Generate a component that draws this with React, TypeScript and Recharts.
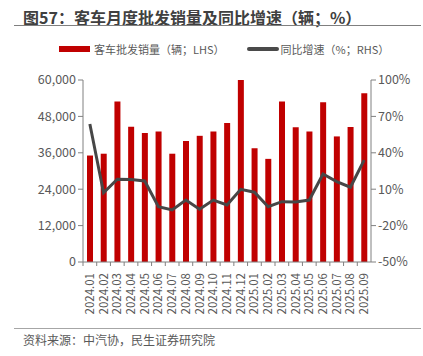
import { ComposedChart, Bar, Line, XAxis, YAxis } from "recharts";

const months = [
  "2024.01", "2024.02", "2024.03", "2024.04", "2024.05", "2024.06", "2024.07",
  "2024.08", "2024.09", "2024.10", "2024.11", "2024.12", "2025.01", "2025.02",
  "2025.03", "2025.04", "2025.05", "2025.06", "2025.07", "2025.08", "2025.09",
];

const sales = [
  35100, 35700, 52900, 44600, 42500, 43000, 35700, 39900, 41600, 43000, 45800,
  60000, 37500, 34000, 52900, 44400, 43000, 52700, 41400, 44500, 55600,
];

const yoy = [
  63.7, 7.1, 18.2, 18, 16.8, -4.4, -7.1, 1.1, -6.5, 1, -3, 9.9, 7.5, -4.4, -0.3,
  -0.5, 1.1, 22.5, 16.2, 11.6, 34,
];

const leftTicks = [0, 12000, 24000, 36000, 48000, 60000];
const rightTicks = [-50, -20, 10, 40, 70, 100];

const data = months.map((m, i) => ({ month: m, sales: sales[i], yoy: yoy[i] }));

const FONT = '"Noto Sans CJK SC", "Noto Sans", sans-serif';
const AXIS = "#808080";
const TEXT = "#595959";

const MonthTick = (props: any) => {
  const { x, y, payload } = props;
  const half = 288 / months.length / 2;
  return (
    <g>
      <line x1={x - half} y1={y - 8} x2={x - half} y2={y - 4} stroke={AXIS} />
      <text
        x={0}
        y={0}
        transform={`translate(${x + 4},${y + 3}) rotate(-90)`}
        textAnchor="end"
        fontSize={11.5}
        fill={TEXT}
        fontFamily={FONT}
      >
        {payload.value}
      </text>
    </g>
  );
};

export default function App() {
  return (
    <div
      style={{
        position: "absolute",
        left: 0,
        top: 0,
        width: 423,
        height: 356,
        background: "#fff",
        fontFamily: FONT,
      }}
    >
      <div
        style={{
          position: "absolute",
          left: 23,
          top: 5,
          fontSize: 16,
          fontWeight: 700,
          color: "#404040",
          whiteSpace: "nowrap",
        }}
      >
        图57：客车月度批发销量及同比增速（辆；%）
      </div>
      <div
        style={{
          position: "absolute",
          left: 14,
          top: 25,
          width: 407,
          height: 1,
          background: "#7f7f7f",
        }}
      />
      <div
        style={{
          position: "absolute",
          left: 59,
          top: 41,
          fontSize: 11,
          color: TEXT,
          whiteSpace: "nowrap",
          display: "flex",
          alignItems: "center",
        }}
      >
        <span
          style={{ display: "inline-block", width: 31, height: 6, background: "#C00000", marginRight: 4 }}
        />
        <span>客车批发销量（辆；LHS）</span>
        <span
          style={{
            display: "inline-block",
            width: 32,
            height: 4,
            borderRadius: 2,
            background: "#4a4a4a",
            marginLeft: 22,
            marginRight: 2,
          }}
        />
        <span>同比增速（%；RHS）</span>
      </div>

      <div style={{ position: "absolute", left: 0, top: 0 }}>
        <ComposedChart
          width={423}
          height={325}
          data={data}
          margin={{ top: 80, right: 7, left: 13, bottom: 8 }}
        >
          <XAxis
            dataKey="month"
            interval={0}
            height={55}
            tickLine={false}
            axisLine={{ stroke: AXIS }}
            tick={<MonthTick />}
          />
          <YAxis
            yAxisId="left"
            domain={[0, 60000]}
            ticks={leftTicks}
            width={70}
            tickSize={5}
            tickLine={{ stroke: AXIS }}
            axisLine={{ stroke: AXIS }}
            tick={{ fontSize: 12.5, fill: TEXT, fontFamily: FONT }}
            tickFormatter={(v: number) => v.toLocaleString("en-US")}
          />
          <YAxis
            yAxisId="right"
            orientation="right"
            domain={[-50, 100]}
            ticks={rightTicks}
            width={45}
            tickSize={5}
            tickLine={{ stroke: AXIS }}
            axisLine={{ stroke: AXIS }}
            tick={{ fontSize: 12.5, fill: TEXT, fontFamily: FONT }}
            tickFormatter={(v: number) => `${v}%`}
          />
          <Bar
            yAxisId="left"
            dataKey="sales"
            fill="#C00000"
            barSize={6}
            isAnimationActive={false}
          />
          <Line
            yAxisId="right"
            dataKey="yoy"
            type="linear"
            stroke="#474747"
            strokeWidth={3}
            dot={false}
            isAnimationActive={false}
          />
        </ComposedChart>
      </div>

      <div
        style={{
          position: "absolute",
          left: 14,
          top: 328,
          width: 407,
          height: 1,
          background: "#a6a6a6",
        }}
      />
      <div
        style={{
          position: "absolute",
          left: 23,
          top: 331,
          fontSize: 12,
          color: TEXT,
          whiteSpace: "nowrap",
        }}
      >
        资料来源：中汽协，民生证券研究院
      </div>
    </div>
  );
}
